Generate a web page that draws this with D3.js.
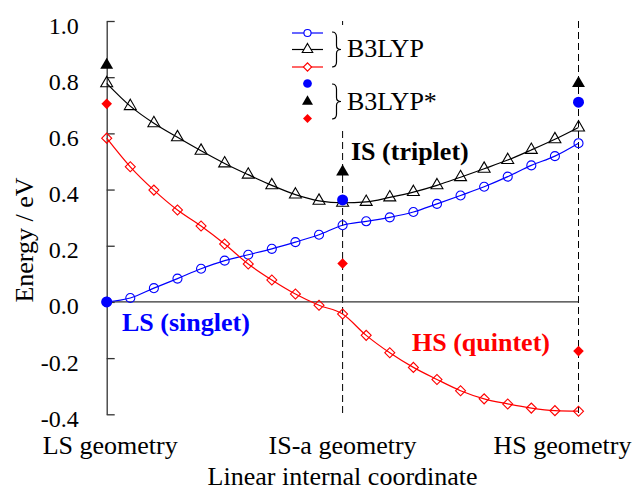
<!DOCTYPE html>
<html>
<head>
<meta charset="utf-8">
<script src="https://cdn.jsdelivr.net/npm/d3@7"></script>
<style>
  body { margin: 0; background: #fff; }
  svg { display: block; }
</style>
</head>
<body>
<svg id="chart" width="634" height="491"></svg>
<script>
// step along the linear internal coordinate (LS -> IS-a -> HS)
const steps = [0, 1, 2, 3, 4, 5, 6, 7, 8, 9, 10, 11, 12, 13, 14, 15, 16, 17, 18, 19, 20]

// B3LYP curves, eV
const singletB3LYP = [0.000, 0.014, 0.049, 0.083, 0.118, 0.147, 0.168, 0.189, 0.213, 0.239, 0.273,
                      0.287, 0.301, 0.320, 0.349, 0.379, 0.410, 0.446, 0.486, 0.519, 0.565]
const tripletB3LYP = [0.778, 0.697, 0.636, 0.586, 0.538, 0.493, 0.453, 0.415, 0.382, 0.360, 0.353,
                      0.356, 0.372, 0.391, 0.415, 0.444, 0.474, 0.505, 0.541, 0.579, 0.621]
const quintetB3LYP = [0.583, 0.481, 0.398, 0.327, 0.270, 0.206, 0.135, 0.078, 0.028, -0.012, -0.043,
                      -0.119, -0.181, -0.233, -0.276, -0.316, -0.345, -0.363, -0.378, -0.387, -0.389]

// B3LYP* single points at the three geometries
const starSteps = [0, 10, 20]
const singletStar = [0.000, 0.363, 0.711]
const tripletStar = [0.843, 0.463, 0.778]
const quintetStar = [0.705, 0.137, -0.175]

const yTicks = [-0.4, -0.2, 0.0, 0.2, 0.4, 0.6, 0.8, 1.0]
const yTickLabels = ["-0.4", "-0.2", "0.0", "0.2", "0.4", "0.6", "0.8", "1.0"]
const geometryLabels = ["LS geometry", "IS-a geometry", "HS geometry"]

const BLUE = "#0000ff"
const RED = "#ff0000"
const AXIS = "#333"
const FONT = "'Liberation Serif', 'DejaVu Serif', 'Times New Roman', Times, serif"

const svg = d3.select("#chart")

const x = d3.scaleLinear().domain([0, 20]).range([106.7, 578.5])
const y = d3.scaleLinear().domain([-0.4, 1.0]).range([414.3, 21])

/* dashed guides at IS-a and HS geometries */
svg.append("g").selectAll("line")
  .data([10, 20])
  .enter().append("line")
    .attr("x1", d => x(d)).attr("x2", d => x(d))
    .attr("y1", y(1.0)).attr("y2", y(-0.4))
    .attr("stroke", "#000")
    .attr("stroke-width", 1)
    .attr("stroke-dasharray", "7,4")

/* zero line */
svg.append("line")
  .attr("x1", x(0)).attr("x2", x(20))
  .attr("y1", y(0)).attr("y2", y(0))
  .attr("stroke", AXIS).attr("stroke-width", 1.3)

/* y axis, ticks pointing in */
const yAxis = svg.append("g")
  .attr("transform", "translate(" + x(0) + ",0)")
  .call(d3.axisLeft(y)
    .tickValues(yTicks)
    .tickFormat((d, i) => yTickLabels[i])
    .tickSizeInner(-8)
    .tickSizeOuter(0)
    .tickPadding(28))
yAxis.attr("font-family", null).attr("font-size", null)
yAxis.select(".domain").attr("stroke", AXIS).attr("stroke-width", 1.3)
yAxis.selectAll(".tick line").attr("stroke", AXIS).attr("stroke-width", 1.3)
yAxis.selectAll("text")
  .attr("fill", "#000")
  .attr("dy", "0.5em")
  .style("font-family", FONT)
  .style("font-size", "24px")

/* geometry labels and axis titles */
const labelPos = [
  { x: x(0) - 64, anchor: "start" },
  { x: x(10), anchor: "middle" },
  { x: x(20) + 53, anchor: "end" }
]
svg.append("g").selectAll("text")
  .data(geometryLabels)
  .enter().append("text")
    .attr("x", (d, i) => labelPos[i].x)
    .attr("y", 454)
    .attr("text-anchor", (d, i) => labelPos[i].anchor)
    .style("font-family", FONT)
    .style("font-size", "26px")
    .text(d => d)

svg.append("text")
  .attr("x", x(10)).attr("y", 485)
  .attr("text-anchor", "middle")
  .style("font-family", FONT)
  .style("font-size", "26px")
  .text("Linear internal coordinate")

svg.append("text")
  .attr("transform", "translate(33,240) rotate(-90)")
  .attr("text-anchor", "middle")
  .style("font-family", FONT)
  .style("font-size", "26px")
  .text("Energy / eV")

/* curves */
const line = d3.line()
  .x(d => x(d.step))
  .y(d => y(d.value))
  .curve(d3.curveMonotoneX)

const toPoints = (values, at) => values.map((v, i) => ({ step: at[i], value: v }))

const circle = d3.symbol().type(d3.symbolCircle)
const triangle = d3.symbol().type(d3.symbolTriangle)
const diamond = d3.symbol().type(d3.symbolSquare)

const series = [
  { values: singletB3LYP, color: BLUE, sym: circle.size(64)(), rot: 0 },
  { values: tripletB3LYP, color: "#000", sym: triangle.size(62)(), rot: 0 },
  { values: quintetB3LYP, color: RED, sym: diamond.size(50)(), rot: 45 }
]

series.forEach(s => {
  const pts = toPoints(s.values, steps)
  svg.append("path")
    .datum(pts)
    .attr("fill", "none")
    .attr("stroke", s.color)
    .attr("stroke-width", 1.2)
    .attr("d", line)
  svg.append("g").selectAll("path")
    .data(pts)
    .enter().append("path")
      .attr("d", s.sym)
      .attr("transform", d => "translate(" + x(d.step) + "," + y(d.value) + ") rotate(" + s.rot + ")")
      .attr("fill", "none")
      .attr("stroke", s.color)
      .attr("stroke-width", 1.1)
})

const stars = [
  { values: singletStar, color: BLUE, sym: circle.size(95)(), rot: 0 },
  { values: tripletStar, color: "#000", sym: triangle.size(72)(), rot: 0 },
  { values: quintetStar, color: RED, sym: diamond.size(56)(), rot: 45 }
]
stars.forEach(s => {
  svg.append("g").selectAll("path")
    .data(toPoints(s.values, starSteps))
    .enter().append("path")
      .attr("d", s.sym)
      .attr("transform", d => "translate(" + x(d.step) + "," + y(d.value) + ") rotate(" + s.rot + ")")
      .attr("fill", s.color)
})

/* state annotations */
const notes = [
  { text: "IS (triplet)", x: 351, y: 160, color: "#000" },
  { text: "LS (singlet)", x: 122, y: 331, color: BLUE },
  { text: "HS (quintet)", x: 412, y: 351, color: RED }
]
svg.append("g").selectAll("text")
  .data(notes)
  .enter().append("text")
    .attr("x", d => d.x).attr("y", d => d.y)
    .attr("fill", d => d.color)
    .style("font-family", FONT)
    .style("font-size", "26px")
    .style("font-weight", "bold")
    .text(d => d.text)

/* legend */
const legend = svg.append("g")
legend.append("rect")
  .attr("x", 286).attr("y", 25).attr("width", 150).attr("height", 102)
  .attr("fill", "#fff")

const legendRows = [
  { y: 33, color: BLUE, sym: circle.size(40)(), rot: 0, filled: false },
  { y: 49.5, color: "#000", sym: triangle.size(48)(), rot: 0, filled: false },
  { y: 67, color: RED, sym: diamond.size(34)(), rot: 45, filled: false },
  { y: 83.5, color: BLUE, sym: circle.size(60)(), rot: 0, filled: true },
  { y: 101.5, color: "#000", sym: triangle.size(52)(), rot: 0, filled: true },
  { y: 118.5, color: RED, sym: diamond.size(40)(), rot: 45, filled: true }
]
legendRows.forEach(r => {
  if (!r.filled) {
    legend.append("line")
      .attr("x1", 292).attr("x2", 323)
      .attr("y1", r.y).attr("y2", r.y)
      .attr("stroke", r.color).attr("stroke-width", 1.2)
  }
  legend.append("path")
    .attr("d", r.sym)
    .attr("transform", "translate(307.5," + r.y + ") rotate(" + r.rot + ")")
    .attr("fill", r.filled ? r.color : "#fff")
    .attr("stroke", r.filled ? "none" : r.color)
    .attr("stroke-width", 1.1)
})

const brace = (x0, y1, y2, w) => {
  const m = (y1 + y2) / 2, h = w / 2
  return "M" + x0 + "," + y1 +
    " Q" + (x0 + h) + "," + y1 + " " + (x0 + h) + "," + (y1 + 5) +
    " L" + (x0 + h) + "," + (m - 4) +
    " Q" + (x0 + h) + "," + m + " " + (x0 + w) + "," + m +
    " Q" + (x0 + h) + "," + m + " " + (x0 + h) + "," + (m + 4) +
    " L" + (x0 + h) + "," + (y2 - 5) +
    " Q" + (x0 + h) + "," + y2 + " " + x0 + "," + y2
}
legend.append("path").attr("d", brace(332, 32, 67, 9))
  .attr("fill", "none").attr("stroke", "#000").attr("stroke-width", 1.2)
legend.append("path").attr("d", brace(332, 84, 119, 9))
  .attr("fill", "none").attr("stroke", "#000").attr("stroke-width", 1.2)

legend.append("text").attr("x", 347).attr("y", 57)
  .style("font-family", FONT).style("font-size", "26px").text("B3LYP")
legend.append("text").attr("x", 347).attr("y", 110)
  .style("font-family", FONT).style("font-size", "26px").text("B3LYP*")
</script>
</body>
</html>
